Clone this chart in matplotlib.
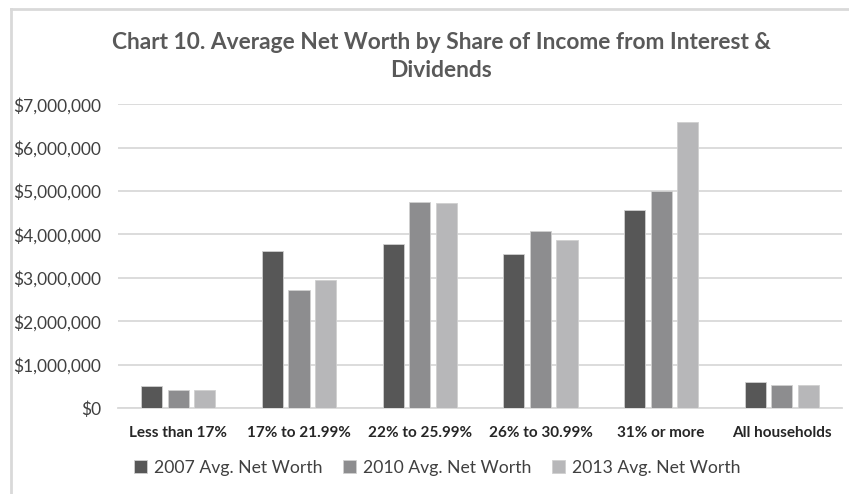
import numpy as np
import matplotlib.pyplot as plt
from matplotlib.lines import Line2D
from matplotlib.ticker import FuncFormatter

plt.rcParams['font.family'] = ['Lato', 'DejaVu Sans']

# Data
categories = ['Less than 17%', '17% to 21.99%', '22% to 25.99%',
              '26% to 30.99%', '31% or more', 'All households']
worth_2007 = [500000, 3620000, 3780000, 3550000, 4560000, 610000]
worth_2010 = [420000, 2720000, 4750000, 4080000, 5000000, 520000]
worth_2013 = [420000, 2950000, 4730000, 3870000, 6590000, 520000]
series_labels = ['2007 Avg. Net Worth', '2010 Avg. Net Worth',
                 '2013 Avg. Net Worth']
colors = ['#575757', '#8d8d8f', '#b7b7b9']

fig = plt.figure(figsize=(8.49, 4.94), dpi=100)
ax = fig.add_axes([0.139, 0.174, 0.853, 0.615])

# light frame on the left and top edges only
fig.lines.append(Line2D([0.013, 0.013], [0.0, 0.982], transform=fig.transFigure,
                        color='#d9d9d9', linewidth=2))
fig.lines.append(Line2D([0.013, 1.0], [0.982, 0.982], transform=fig.transFigure,
                        color='#d9d9d9', linewidth=2))

x = np.arange(len(categories))
width = 0.175
step = 0.22
for i, (vals, lab, col) in enumerate(zip([worth_2007, worth_2010, worth_2013],
                                         series_labels, colors)):
    ax.bar(x + (i - 1) * step, vals, width, color=col, label=lab,
           edgecolor='#d0d0d0', linewidth=0.6, zorder=3)

ax.set_ylim(0, 7000000)
ax.set_xlim(-0.5, len(categories) - 0.5)
ax.set_yticks(np.arange(0, 7000001, 1000000))
ax.yaxis.set_major_formatter(FuncFormatter(lambda v, p: '${:,.0f}'.format(v)))
ax.grid(axis='y', color='#d9d9d9', linewidth=1.3, zorder=0)
for s in ['top', 'right', 'left']:
    ax.spines[s].set_visible(False)
ax.spines['bottom'].set_color('#d9d9d9')
ax.spines['bottom'].set_linewidth(1.3)
ax.tick_params(axis='both', length=0)
ax.tick_params(axis='y', pad=12, labelsize=12.5, labelcolor='#404040')
ax.tick_params(axis='x', pad=13, labelsize=11, labelcolor='#262626')
ax.set_xticks(x)
ax.set_xticklabels(categories, fontweight='bold')

fig.text(0.52, 0.886, 'Chart 10. Average Net Worth by Share of Income from Interest &\nDividends',
         ha='center', va='center', fontsize=16.4, fontweight='bold',
         color='#595959', linespacing=1.4)

ax.legend(loc='center', bbox_to_anchor=(0.515, 0.053), bbox_transform=fig.transFigure,
          ncol=3, frameon=False, fontsize=12.7, handlelength=0.7, handleheight=0.7,
          columnspacing=1.2, handletextpad=0.4, labelcolor='#404040')

fig.savefig('out.png', dpi=100)
